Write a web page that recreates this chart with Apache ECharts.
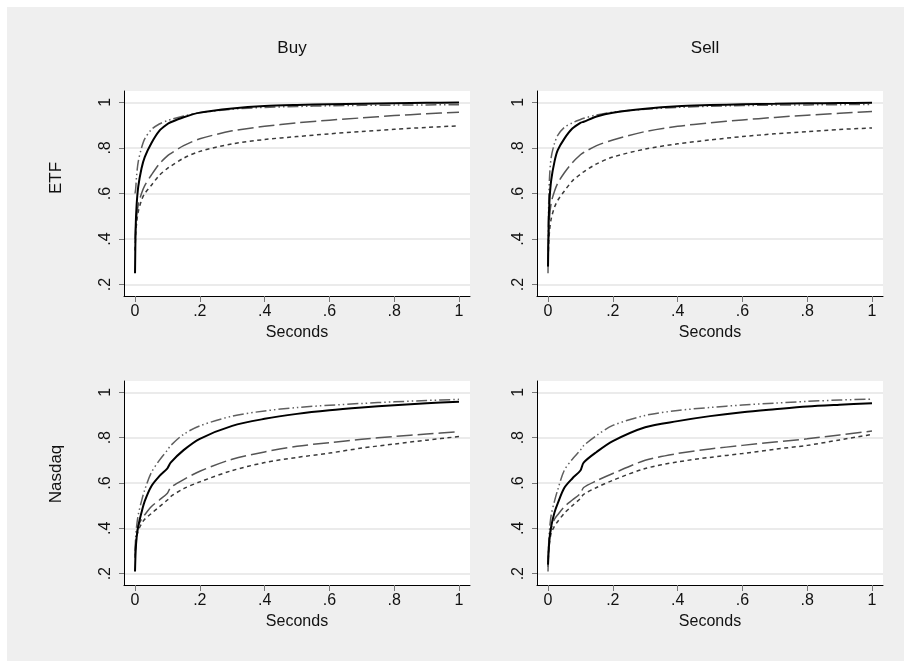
<!DOCTYPE html>
<html>
<head>
<meta charset="utf-8">
<script src="https://cdn.jsdelivr.net/npm/echarts@6/dist/echarts.min.js"></script>
<style>
html,body{margin:0;padding:0;background:#ffffff;}
#chart{width:904px;height:661px;}
</style>
</head>
<body>
<div id="chart"></div>
<script>
// ---------- data ----------
var seconds = [0, 0.002, 0.005, 0.01, 0.02, 0.03, 0.05, 0.075, 0.1, 0.11, 0.15, 0.2, 0.3, 0.4, 0.5, 0.6, 0.7, 0.8, 0.9, 1.0];
var xTicks = [0, 0.2, 0.4, 0.6, 0.8, 1];
var yTicks = [0.2, 0.4, 0.6, 0.8, 1];
var columnTitles = ["Buy", "Sell"];
var rowTitles = ["ETF", "Nasdaq"];
var xTitle = "Seconds";

// ETF, Buy
var etfBuySolid   = [0.25, 0.45, 0.55, 0.63, 0.71, 0.76, 0.82, 0.875, 0.905, 0.913, 0.935, 0.955, 0.973, 0.984, 0.989, 0.992, 0.994, 0.996, 0.998, 1.0];
var etfBuyDashDot = [0.60, 0.62, 0.68, 0.74, 0.80, 0.84, 0.88, 0.905, 0.92, 0.925, 0.94, 0.955, 0.97, 0.978, 0.982, 0.985, 0.987, 0.988, 0.989, 0.99];
var etfBuyLong    = [0.40, 0.45, 0.50, 0.55, 0.60, 0.635, 0.68, 0.73, 0.765, 0.775, 0.81, 0.84, 0.875, 0.895, 0.91, 0.922, 0.932, 0.942, 0.95, 0.957];
var etfBuyShort   = [0.35, 0.42, 0.47, 0.52, 0.57, 0.60, 0.635, 0.68, 0.71, 0.72, 0.755, 0.785, 0.818, 0.837, 0.85, 0.862, 0.872, 0.882, 0.89, 0.897];
// ETF, Sell
var etfSellSolid   = [0.28, 0.47, 0.58, 0.66, 0.74, 0.79, 0.84, 0.885, 0.91, 0.915, 0.938, 0.955, 0.972, 0.983, 0.988, 0.992, 0.994, 0.996, 0.997, 0.998];
var etfSellDashDot = [0.25, 0.55, 0.68, 0.76, 0.82, 0.855, 0.89, 0.91, 0.925, 0.93, 0.945, 0.957, 0.97, 0.978, 0.983, 0.986, 0.988, 0.989, 0.99, 0.991];
var etfSellLong    = [0.30, 0.42, 0.50, 0.56, 0.61, 0.645, 0.69, 0.735, 0.77, 0.78, 0.81, 0.835, 0.872, 0.895, 0.91, 0.923, 0.934, 0.944, 0.952, 0.96];
var etfSellShort   = [0.28, 0.38, 0.44, 0.49, 0.54, 0.57, 0.61, 0.655, 0.685, 0.695, 0.73, 0.76, 0.795, 0.818, 0.835, 0.85, 0.862, 0.872, 0.881, 0.888];
// Nasdaq, Buy
var nasBuySolid   = [0.21, 0.30, 0.36, 0.41, 0.47, 0.52, 0.585, 0.63, 0.665, 0.69, 0.745, 0.795, 0.852, 0.883, 0.905, 0.921, 0.933, 0.943, 0.952, 0.958];
var nasBuyDashDot = [0.30, 0.36, 0.41, 0.46, 0.52, 0.57, 0.645, 0.70, 0.745, 0.765, 0.815, 0.852, 0.895, 0.918, 0.933, 0.943, 0.951, 0.958, 0.964, 0.969];
var nasBuyLong    = [0.28, 0.33, 0.37, 0.41, 0.44, 0.46, 0.495, 0.525, 0.555, 0.58, 0.615, 0.652, 0.705, 0.737, 0.762, 0.778, 0.793, 0.805, 0.816, 0.826];
var nasBuyShort   = [0.27, 0.32, 0.36, 0.39, 0.42, 0.44, 0.465, 0.495, 0.525, 0.54, 0.575, 0.605, 0.655, 0.69, 0.713, 0.732, 0.754, 0.772, 0.789, 0.805];
// Nasdaq, Sell
var nasSellSolid   = [0.24, 0.30, 0.36, 0.41, 0.47, 0.51, 0.578, 0.62, 0.655, 0.69, 0.737, 0.785, 0.846, 0.873, 0.895, 0.912, 0.925, 0.937, 0.945, 0.952];
var nasSellDashDot = [0.21, 0.33, 0.40, 0.46, 0.52, 0.57, 0.655, 0.705, 0.745, 0.765, 0.81, 0.854, 0.898, 0.92, 0.933, 0.944, 0.952, 0.96, 0.966, 0.97];
var nasSellLong    = [0.25, 0.32, 0.36, 0.40, 0.44, 0.46, 0.495, 0.525, 0.554, 0.58, 0.61, 0.642, 0.70, 0.73, 0.75, 0.766, 0.781, 0.795, 0.812, 0.829];
var nasSellShort   = [0.23, 0.30, 0.34, 0.38, 0.41, 0.43, 0.466, 0.50, 0.532, 0.55, 0.58, 0.612, 0.664, 0.693, 0.713, 0.73, 0.749, 0.766, 0.79, 0.814];

// ---------- build ----------
var FONT = "'Liberation Sans', Arial, Helvetica, sans-serif";
var panels = [
  {left:124, top:91,  h:205, data:[etfBuyShort, etfBuyLong, etfBuyDashDot, etfBuySolid]},
  {left:537, top:91,  h:205, data:[etfSellShort, etfSellLong, etfSellDashDot, etfSellSolid]},
  {left:124, top:381, h:204, data:[nasBuyShort, nasBuyLong, nasBuyDashDot, nasBuySolid]},
  {left:537, top:381, h:204, data:[nasSellShort, nasSellLong, nasSellDashDot, nasSellSolid]}
];
var styles = [
  {color:'#3a3a3a', width:1.5, type:[4,3.5]},
  {color:'#555555', width:1.5, type:[16,5]},
  {color:'#5f5f5f', width:1.5, type:[11,3,1.5,3,1.5,3]},
  {color:'#000000', width:2,   type:'solid'}
];
function fmt(v){
  var r = Math.round(v*10)/10;
  if (r === 0) return '0';
  if (r === 1) return '1';
  return String(r).replace(/^0\./, '.');
}
function pairs(ys){ return seconds.map(function(x,i){ return [x, ys[i]]; }); }

var grids=[], xAxes=[], yAxes=[], series=[];
panels.forEach(function(p, i){
  grids.push({left:p.left, top:p.top, width:346, height:p.h, show:true, backgroundColor:'#ffffff', borderWidth:0, containLabel:false});
  xAxes.push({
    type:'value', gridIndex:i, min:-0.034, max:1.034,
    axisLine:{show:true, onZero:false, lineStyle:{color:'#000', width:1}},
    axisTick:{show:true, length:6, customValues:xTicks, lineStyle:{color:'#777', width:1}},
    axisLabel:{customValues:xTicks, formatter:fmt, color:'#111', fontSize:16, fontFamily:FONT, margin:8},
    splitLine:{show:false},
    name:xTitle, nameLocation:'middle', nameGap:29,
    nameTextStyle:{color:'#111', fontSize:16, fontFamily:FONT}
  });
  yAxes.push({
    type:'value', gridIndex:i, min:0.15, max:1.05,
    axisLine:{show:true, onZero:false, lineStyle:{color:'#000', width:1}},
    axisTick:{show:true, length:5, customValues:yTicks, lineStyle:{color:'#777', width:1}},
    axisLabel:{customValues:yTicks, formatter:fmt, rotate:90, color:'#111', fontSize:16, fontFamily:FONT, margin:10},
    splitLine:{show:true, lineStyle:{color:'#e4e4e4', width:1.5}}
  });
  p.data.forEach(function(ys, k){
    var s = styles[k];
    series.push({
      type:'line', xAxisIndex:i, yAxisIndex:i, data:pairs(ys),
      showSymbol:false, smooth:0.3, silent:true, animation:false,
      lineStyle:{color:s.color, width:s.width, type:s.type}, z:2+k
    });
  });
});

var chart = echarts.init(document.getElementById('chart'), null, {renderer:'canvas'});
chart.setOption({
  animation:false,
  backgroundColor:'#ffffff',
  graphic:[
    {type:'rect', z:-10, silent:true, shape:{x:7, y:7, width:897, height:654}, style:{fill:'#efefef'}},
    {type:'text', x:292, y:48, style:{text:columnTitles[0], font:'17px '+FONT, fill:'#111', textAlign:'center', textVerticalAlign:'middle'}},
    {type:'text', x:705, y:48, style:{text:columnTitles[1], font:'17px '+FONT, fill:'#111', textAlign:'center', textVerticalAlign:'middle'}},
    {type:'text', x:56, y:178, rotation:Math.PI/2, style:{text:rowTitles[0], font:'17px '+FONT, fill:'#111', textAlign:'center', textVerticalAlign:'middle'}},
    {type:'text', x:56, y:474, rotation:Math.PI/2, style:{text:rowTitles[1], font:'17px '+FONT, fill:'#111', textAlign:'center', textVerticalAlign:'middle'}}
  ],
  grid:grids, xAxis:xAxes, yAxis:yAxes, series:series
});
</script>
</body>
</html>
